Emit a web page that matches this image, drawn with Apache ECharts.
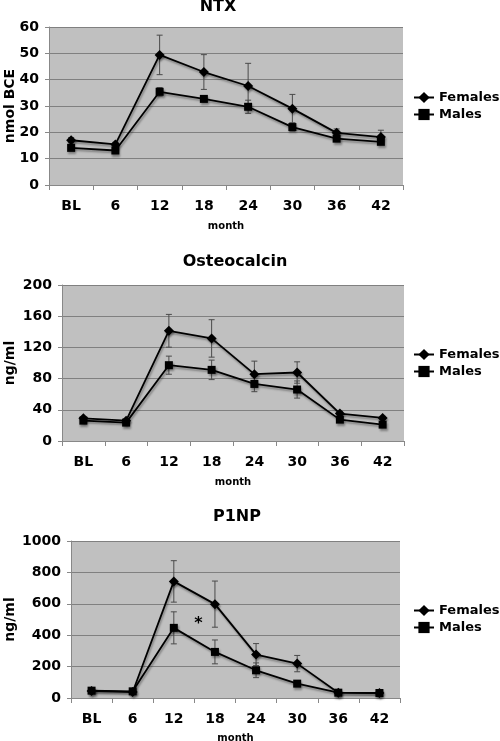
<!DOCTYPE html>
<html><head><meta charset="utf-8">
<script src="https://cdn.jsdelivr.net/npm/echarts@6/dist/echarts.min.js"></script>
<style>html,body{margin:0;padding:0;background:#fff}#c{width:500px;height:741px}</style>
</head><body><div id="c"></div>
<script>
const months = ['BL','6','12','18','24','30','36','42'];
// NTX (nmol BCE)
const ntxFemales = [17.0, 15.4, 49.4, 42.9, 37.6, 29.0, 19.8, 18.2];
const ntxFemalesErr = [1.0, 0.8, 7.5, 6.6, 8.6, 5.4, 1.5, 2.6];
const ntxMales = [14.1, 13.1, 35.4, 32.7, 29.7, 22.0, 17.6, 16.4];
const ntxMalesErr = [0.8, 0.6, 1.6, 1.0, 2.5, 1.5, 0.6, 0.6];
// Osteocalcin (ng/ml)
const ocFemales = [29.1, 26.0, 141.3, 131.5, 85.7, 87.8, 35.1, 29.6];
const ocFemalesErr = [2, 2, 21, 24, 16.7, 13.7, 3, 2];
const ocMales = [26.1, 23.6, 97.2, 91.2, 73.2, 66.0, 27.4, 21.0];
const ocMalesErr = [2, 2, 11.6, 12.5, 10, 11, 2, 2];
// P1NP (ng/ml)
const pFemales = [44.7, 38, 742.6, 597.9, 276.6, 219, 34, 32];
const pFemalesErr = [5, 5, 132, 147, 70, 52, 5, 5];
const pMales = [46.8, 42.5, 446.8, 293.6, 176.6, 91.5, 34, 32];
const pMalesErr = [5, 5, 102, 76, 47, 10, 5, 5];
// asterisk annotation position (fractional category index, value)
const starPos = [2.6, 470];

const panels = [
  {title:'NTX', yName:'nmol BCE', max:60, interval:10, f:ntxFemales, fe:ntxFemalesErr, m:ntxMales, me:ntxMalesErr,
   grid:{left:49, right:97, top:27, height:158}, titleX:218, titleY:-1, nameGap:32, monthGap:36, legendTop:91},
  {title:'Osteocalcin', yName:'ng/ml', max:200, interval:40, f:ocFemales, fe:ocFemalesErr, m:ocMales, me:ocMalesErr,
   grid:{left:62, right:96, top:285, height:156}, titleX:235, titleY:254, nameGap:45, monthGap:36, legendTop:348},
  {title:'P1NP', yName:'ng/ml', max:1000, interval:200, f:pFemales, fe:pFemalesErr, m:pMales, me:pMalesErr,
   grid:{left:71, right:100, top:541, height:157}, titleX:237, titleY:509, nameGap:54, monthGap:35, legendTop:604}
];

const FONT = 'DejaVu Sans';
const shadow = {shadowColor:'rgba(0,0,0,0.35)', shadowBlur:2, shadowOffsetX:1, shadowOffsetY:2};

function errSeries(idx, vals, errs){
  return {
    type:'custom', xAxisIndex:idx, yAxisIndex:idx, z:1, silent:true,
    data: vals.map((v,i)=>[i, v-errs[i], v+errs[i]]),
    renderItem(params, api){
      const lo = api.coord([api.value(0), api.value(1)]);
      const hi = api.coord([api.value(0), api.value(2)]);
      const w = 3;
      const st = {stroke:'#4a4a4a', lineWidth:1};
      return {type:'group', children:[
        {type:'line', shape:{x1:lo[0],y1:lo[1],x2:hi[0],y2:hi[1]}, style:st},
        {type:'line', shape:{x1:lo[0]-w,y1:lo[1],x2:lo[0]+w,y2:lo[1]}, style:st},
        {type:'line', shape:{x1:hi[0]-w,y1:hi[1],x2:hi[0]+w,y2:hi[1]}, style:st}
      ]};
    }
  };
}

const option = {
  animation:false,
  textStyle:{fontFamily:FONT},
  title:[], grid:[], xAxis:[], yAxis:[], legend:[], series:[]
};
panels.forEach((p,i)=>{
  option.title.push({text:p.title, left:p.titleX, top:p.titleY, textAlign:'center', padding:0,
    textStyle:{fontFamily:FONT, fontWeight:'bold', fontSize:16, color:'#000'}});
  option.grid.push(Object.assign({show:true, backgroundColor:'#c0c0c0', borderWidth:0,
    containLabel:false, outerBoundsMode:'none'}, p.grid));
  option.xAxis.push({type:'category', gridIndex:i, data:months, boundaryGap:true,
    name:'month', nameLocation:'middle', nameGap:p.monthGap, nameMoveOverlap:false,
    nameTextStyle:{fontFamily:FONT, fontWeight:'bold', fontSize:10, color:'#000'},
    axisLine:{lineStyle:{color:'#888', width:1}},
    axisTick:{show:true, length:5, lineStyle:{color:'#888'}},
    axisLabel:{fontFamily:FONT, fontWeight:'bold', fontSize:14, color:'#000', margin:14},
    splitLine:{show:false}});
  option.yAxis.push({type:'value', gridIndex:i, min:0, max:p.max, interval:p.interval,
    name:p.yName, nameLocation:'middle', nameGap:p.nameGap, nameRotate:90, nameMoveOverlap:false,
    nameTextStyle:{fontFamily:FONT, fontWeight:'bold', fontSize:14, color:'#000'},
    axisLine:{show:true, lineStyle:{color:'#888'}},
    axisTick:{show:true, length:4, lineStyle:{color:'#888'}},
    axisLabel:{fontFamily:FONT, fontWeight:'bold', fontSize:14, color:'#000', margin:10,
      formatter:v=>String(v)},
    splitLine:{show:true, lineStyle:{color:'#808080', width:1}}});
  option.legend.push({orient:'vertical', left:413, top:p.legendTop, padding:0, itemWidth:20, itemHeight:14, itemGap:4,
    data:['Females','Males'],
    textStyle:{fontFamily:FONT, fontWeight:'bold', fontSize:13, color:'#000'}});
  option.series.push(errSeries(i, p.f, p.fe));
  option.series.push(errSeries(i, p.m, p.me));
  option.series.push({name:'Females', type:'line', xAxisIndex:i, yAxisIndex:i, data:p.f, z:3,
    symbol:'diamond', symbolSize:10, color:'#000',
    lineStyle:Object.assign({color:'#000', width:1.8}, shadow),
    itemStyle:Object.assign({color:'#000'}, shadow)});
  option.series.push({name:'Males', type:'line', xAxisIndex:i, yAxisIndex:i, data:p.m, z:3,
    symbol:'rect', symbolSize:8, color:'#000',
    lineStyle:Object.assign({color:'#000', width:1.8}, shadow),
    itemStyle:Object.assign({color:'#000'}, shadow)});
});

const chart = echarts.init(document.getElementById('c'), null, {renderer:'canvas'});
chart.setOption(option);
const i0 = Math.floor(starPos[0]), t = starPos[0] - i0;
const a = chart.convertToPixel({gridIndex:2}, [i0, starPos[1]]);
const b = chart.convertToPixel({gridIndex:2}, [i0 + 1, starPos[1]]);
const sx = a[0] + (b[0] - a[0]) * t, sy = a[1];
chart.setOption({graphic:[{type:'text', x:sx, y:sy, style:{text:'*', fontFamily:FONT, fontWeight:'bold', fontSize:16, fill:'#000', align:'center', verticalAlign:'middle'}}]});
</script></body></html>
